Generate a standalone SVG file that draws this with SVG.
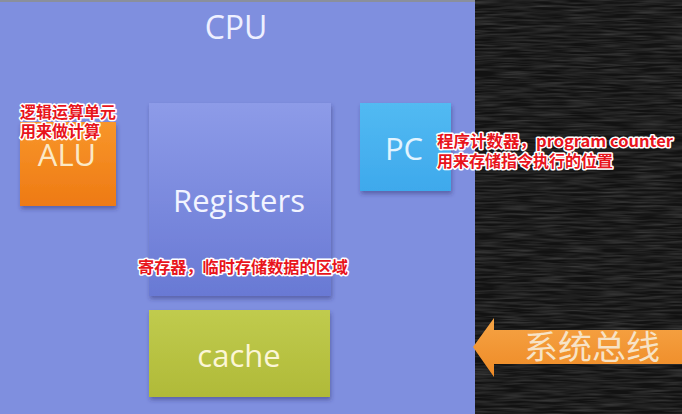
<svg xmlns="http://www.w3.org/2000/svg" width="682" height="414" viewBox="0 0 682 414">
<defs>
  <linearGradient id="gReg" x1="0" y1="0" x2="0" y2="1">
    <stop offset="0" stop-color="#8d9be8"/>
    <stop offset="1" stop-color="#6979d4"/>
  </linearGradient>
  <linearGradient id="gAlu" x1="0" y1="0" x2="0" y2="1">
    <stop offset="0" stop-color="#f8962a"/>
    <stop offset="1" stop-color="#ee7a14"/>
  </linearGradient>
  <linearGradient id="gPc" x1="0" y1="0" x2="0" y2="1">
    <stop offset="0" stop-color="#52baf2"/>
    <stop offset="1" stop-color="#3ea9ec"/>
  </linearGradient>
  <linearGradient id="gCache" x1="0" y1="0" x2="0" y2="1">
    <stop offset="0" stop-color="#c0cb4e"/>
    <stop offset="1" stop-color="#b0ba38"/>
  </linearGradient>
  <linearGradient id="gBus" x1="0" y1="0" x2="0" y2="1">
    <stop offset="0" stop-color="#f6a445"/>
    <stop offset="1" stop-color="#ee8a26"/>
  </linearGradient>
  <filter id="shadow" x="-10%" y="-10%" width="125%" height="125%">
    <feDropShadow dx="1" dy="3" stdDeviation="2" flood-color="#2a2f6a" flood-opacity="0.45"/>
  </filter>
  <filter id="grain" x="0" y="0" width="100%" height="100%">
    <feTurbulence type="fractalNoise" baseFrequency="0.03 0.5" numOctaves="2" seed="3" result="n"/>
    <feColorMatrix in="n" type="matrix" values="0 0 0 0 0.25  0 0 0 0 0.25  0 0 0 0 0.25  0 0 0 0.6 -0.2"/>
  </filter>
  <style>
    .box-label { font-family: "Open Sans", "Noto Sans", "DejaVu Sans", sans-serif; text-anchor: middle; }
    .note { font-family: "Noto Sans CJK SC", "Noto Sans", sans-serif; font-weight: bold; font-size: 16px; fill: #e8141c; stroke: #ffffff; stroke-width: 3px; paint-order: stroke; stroke-linejoin: round; }
  </style>
</defs>

<!-- background -->
<rect x="0" y="0" width="682" height="414" fill="#121212"/>
<rect x="475" y="0" width="207" height="414" filter="url(#grain)"/>

<g id="cpu">
  <rect x="0" y="0" width="475" height="414" fill="#7f8fdf"/>
  <rect x="0" y="0" width="475" height="2" fill="#8a8f9c"/>
  <text class="box-label" x="236" y="39" font-size="32" fill="#eef0ff">CPU</text>
</g>

<g id="alu">
  <rect x="20" y="122" width="96" height="84" fill="url(#gAlu)" filter="url(#shadow)"/>
  <text class="box-label" x="67" y="166" font-size="31" fill="#fbe9c6">ALU</text>
</g>

<g id="registers">
  <rect x="149" y="103" width="182" height="193" fill="url(#gReg)" filter="url(#shadow)"/>
  <text class="box-label" x="239" y="212" font-size="31" fill="#f2f4ff">Registers</text>
</g>

<g id="pc">
  <rect x="360" y="103" width="91" height="88" fill="url(#gPc)" filter="url(#shadow)"/>
  <text class="box-label" x="404" y="160" font-size="31" fill="#e2f4ff">PC</text>
</g>

<g id="cache">
  <rect x="149" y="310" width="181" height="87" fill="url(#gCache)" filter="url(#shadow)"/>
  <text class="box-label" x="239" y="367" font-size="31" fill="#fcf6d6">cache</text>
</g>

<g id="connectors">
  <g id="system-bus">
    <path d="M473,347 L494,318 L494,330 L682,330 L682,364 L494,364 L494,377 Z" fill="url(#gBus)"/>
    <text x="524" y="359" font-family="Noto Sans CJK SC, sans-serif" font-size="33" fill="#f7e3c6" textLength="136" lengthAdjust="spacingAndGlyphs">系统总线</text>
  </g>
</g>

<g id="notes">
  <text class="note" x="20" y="118">逻辑运算单元</text>
  <text class="note" x="20" y="137">用来做计算</text>
  <text class="note" x="437" y="147" textLength="236" lengthAdjust="spacingAndGlyphs">程序计数器，program counter</text>
  <text class="note" x="437" y="167">用来存储指令执行的位置</text>
  <text class="note" x="138" y="273" textLength="210" lengthAdjust="spacingAndGlyphs">寄存器，临时存储数据的区域</text>
</g>
</svg>
